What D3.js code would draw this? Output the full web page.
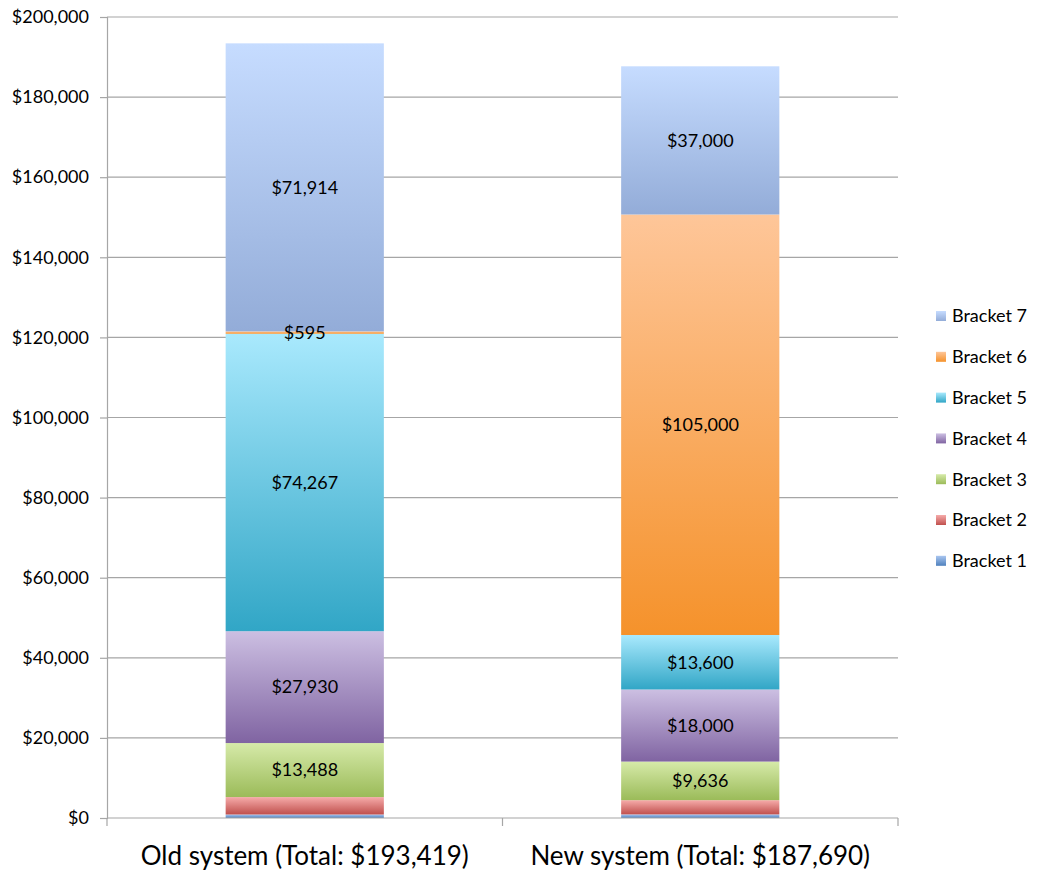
<!DOCTYPE html>
<html>
<head>
<meta charset="utf-8">
<script src="https://cdn.jsdelivr.net/npm/d3@7"></script>
<style>
  body { margin: 0; background: #fff; }
  text { font-family: Lato, "Open Sans", sans-serif; fill: #000; }
</style>
</head>
<body>
<div id="chart"></div>
<script>
const systems = ["Old system (Total: $193,419)", "New system (Total: $187,690)"];
const brackets = ["Bracket 1", "Bracket 2", "Bracket 3", "Bracket 4", "Bracket 5", "Bracket 6", "Bracket 7"];
const oldValues = [875, 4350, 13488, 27930, 74267, 595, 71914];
const newValues = [900, 3554, 9636, 18000, 13600, 105000, 37000];
const yTicks = [0, 20000, 40000, 60000, 80000, 100000, 120000, 140000, 160000, 180000, 200000];
// top (light) and bottom (dark) colours of each bracket's gradient
const topColors = ["#aac6f0", "#f6abaa", "#d6eaa9", "#ccbfe2", "#a9e9fd", "#fec699", "#c6dcff"];
const botColors = ["#4f81bd", "#c0504d", "#9bbb59", "#8064a2", "#31a6c6", "#f5922b", "#93acd8"];

const width = 1044, height = 872;
const margin = {left: 107, right: 146, top: 17, bottom: 54};
const x0 = margin.left, x1 = width - margin.right;
const y0 = height - margin.bottom, y1 = margin.top;

const svg = d3.select("#chart").append("svg")
  .attr("width", width).attr("height", height);

const defs = svg.append("defs");
brackets.forEach((b, i) => {
  const grad = defs.append("linearGradient")
    .attr("id", "g" + i).attr("x1", 0).attr("y1", 0).attr("x2", 0).attr("y2", 1);
  grad.append("stop").attr("offset", "0%").attr("stop-color", topColors[i]);
  grad.append("stop").attr("offset", "100%").attr("stop-color", botColors[i]);
});

const x = d3.scaleBand().domain(systems).range([x0, x1]).paddingInner(0.6).paddingOuter(0.3);
const y = d3.scaleLinear().domain([0, 200000]).range([y0, y1]);

// gridlines
svg.append("g").selectAll("line")
  .data(yTicks.slice(1))
  .join("line")
  .attr("x1", x0).attr("x2", x1)
  .attr("y1", d => y(d)).attr("y2", d => y(d))
  .attr("stroke", "#a6a6a6").attr("stroke-width", 1.2);

// y axis
const yAxis = svg.append("g")
  .attr("transform", `translate(${x0},0)`)
  .call(d3.axisLeft(y).tickValues(yTicks).tickSize(7).tickPadding(11)
    .tickFormat(d => "$" + d3.format(",")(d)));
yAxis.select(".domain").attr("stroke", "#a6a6a6").attr("stroke-width", 1.2);
yAxis.selectAll(".tick line").attr("stroke", "#a6a6a6").attr("stroke-width", 1.2);
yAxis.selectAll("text").style("font-size", "18px").attr("fill", "#000");

// stacked data
const table = systems.map((s, i) => {
  const row = {system: s};
  const vals = i === 0 ? oldValues : newValues;
  brackets.forEach((b, j) => row[b] = vals[j]);
  return row;
});
const series = d3.stack().keys(brackets)(table);

const bars = svg.append("g");
series.forEach((ser, i) => {
  bars.selectAll(null)
    .data(ser)
    .join("rect")
    .attr("x", d => x(d.data.system))
    .attr("width", x.bandwidth())
    .attr("y", d => y(d[1]))
    .attr("height", d => y(d[0]) - y(d[1]))
    .attr("fill", `url(#g${i})`);
});

// segment labels (only brackets 3 to 7)
const labels = svg.append("g");
series.forEach((ser, i) => {
  if (i < 2) return;
  labels.selectAll(null)
    .data(ser)
    .join("text")
    .attr("x", d => x(d.data.system) + x.bandwidth() / 2)
    .attr("y", d => y((d[0] + d[1]) / 2))
    .attr("dy", "0.35em")
    .attr("text-anchor", "middle")
    .style("font-size", "18px")
    .text(d => "$" + d3.format(",")(d[1] - d[0]));
});

// x axis
const xAxisG = svg.append("g").attr("transform", `translate(0,${y0})`);
xAxisG.append("line").attr("x1", x0).attr("x2", x1)
  .attr("stroke", "#a6a6a6").attr("stroke-width", 1.2);
const step = (x1 - x0) / systems.length;
xAxisG.selectAll("line.tk")
  .data(d3.range(systems.length + 1))
  .join("line").attr("class", "tk")
  .attr("x1", d => x0 + d * step).attr("x2", d => x0 + d * step)
  .attr("y1", 0).attr("y2", 8)
  .attr("stroke", "#a6a6a6").attr("stroke-width", 1.2);
xAxisG.selectAll("text")
  .data(systems)
  .join("text")
  .attr("x", d => x(d) + x.bandwidth() / 2)
  .attr("y", 47)
  .attr("text-anchor", "middle")
  .style("font-size", "26px")
  .text(d => d);

// legend
const legend = svg.append("g").attr("transform", "translate(936,316)");
const rev = brackets.slice().reverse();
const li = legend.selectAll("g")
  .data(rev)
  .join("g")
  .attr("transform", (d, i) => `translate(0,${i * 40.8})`);
li.append("rect")
  .attr("x", 0).attr("y", -5).attr("width", 10).attr("height", 10)
  .attr("fill", d => `url(#g${brackets.indexOf(d)})`);
li.append("text")
  .attr("x", 16).attr("dy", "0.35em")
  .style("font-size", "18px")
  .text(d => d);
</script>
</body>
</html>
